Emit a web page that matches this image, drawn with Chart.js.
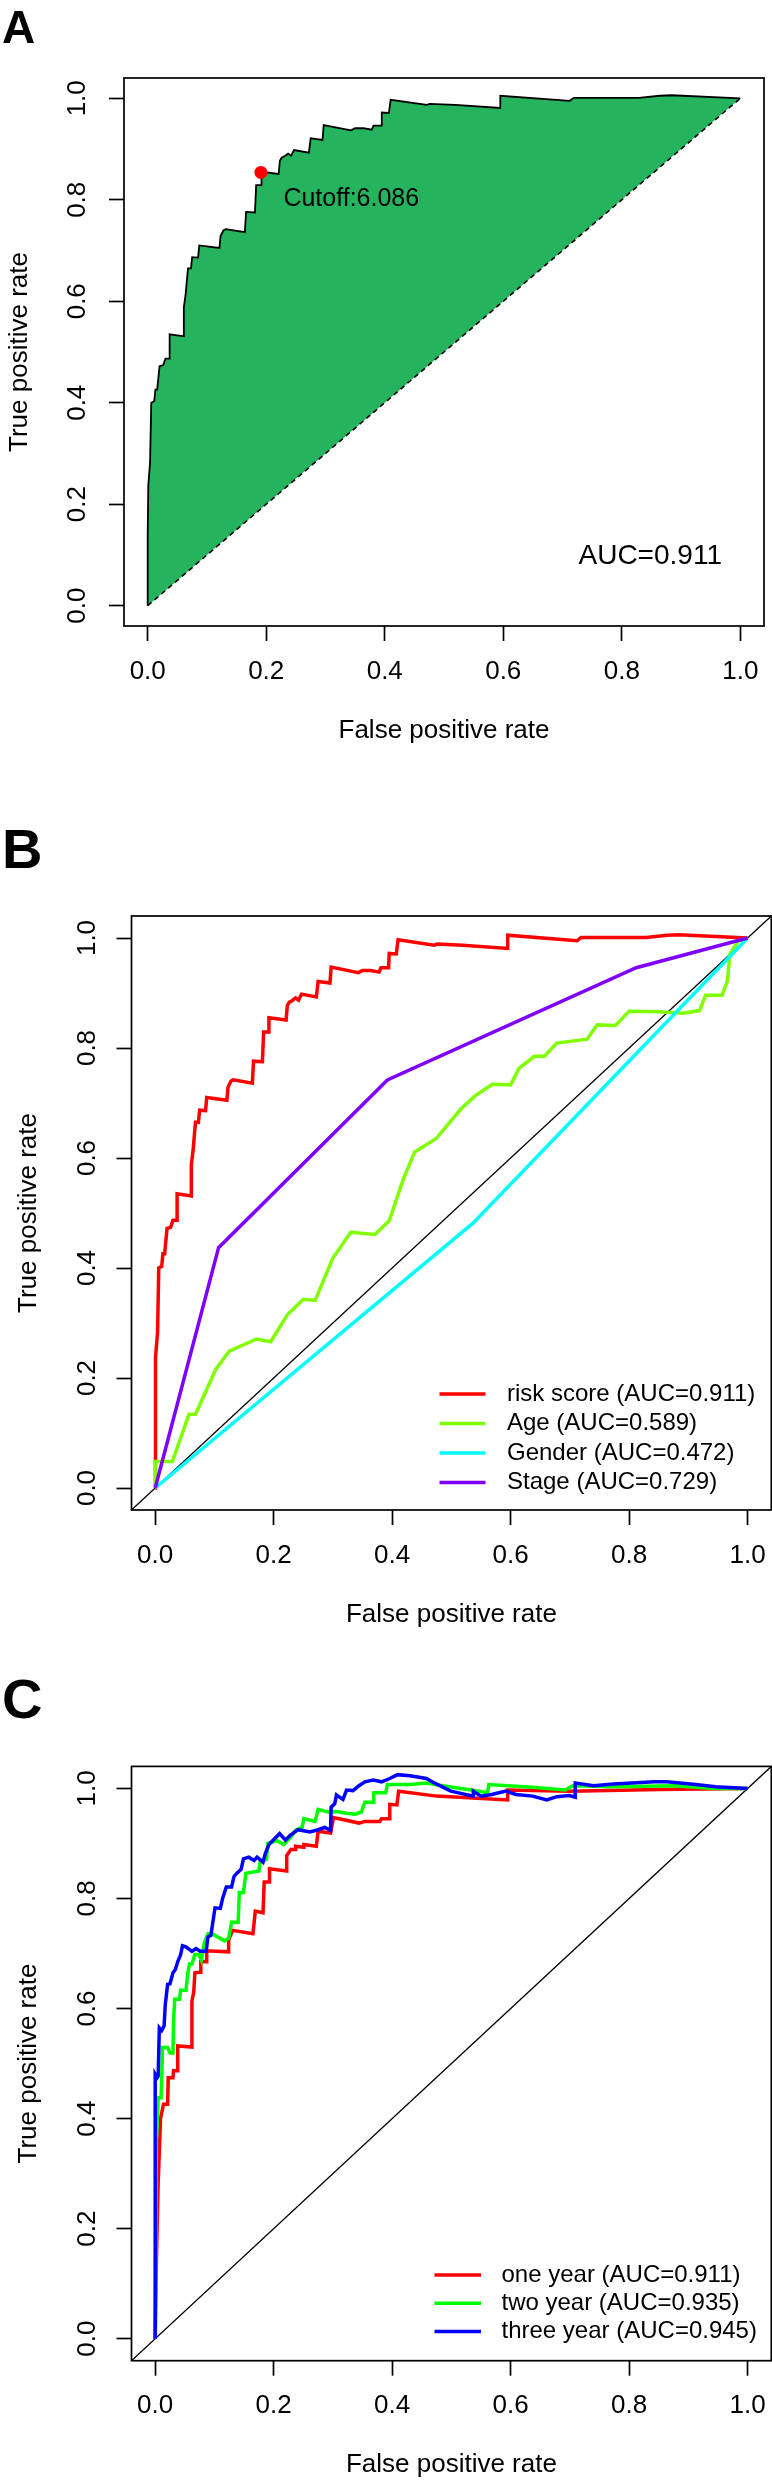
<!DOCTYPE html>
<html>
<head>
<meta charset="utf-8">
<script src="https://cdn.jsdelivr.net/npm/chart.js@4.4.1/dist/chart.umd.min.js"></script>
<style>
  body { margin: 0; background: #fff; width: 772px; height: 2480px; position: relative; overflow: hidden; }
  canvas { position: absolute; left: 0; }
  .tag { position: absolute; left: 2px; font-family: "Liberation Sans", Arial, sans-serif; font-weight: bold; line-height: 1; color: #000; z-index: 2; }
</style>
</head>
<body>
<div class="tag" style="top:4px;font-size:46px">A</div>
<div class="tag" style="top:821px;font-size:56px">B</div>
<div class="tag" style="top:1671px;font-size:56px">C</div>
<canvas id="panelA" width="772" height="746" style="top:0;width:772px;height:746px"></canvas>
<canvas id="panelB" width="772" height="804" style="top:826px;width:772px;height:804px"></canvas>
<canvas id="panelC" width="772" height="800" style="top:1680px;width:772px;height:800px"></canvas>
<script>
// tick positions on both axes
const tickValues = [0, 0.2, 0.4, 0.6, 0.8, 1.0];

// risk score ROC curve (panel A, red curve in panel B)
const riskFpr = [0, 0, 0.001, 0.004, 0.006, 0.011, 0.013, 0.016, 0.020, 0.026, 0.030, 0.037, 0.037, 0.061, 0.061, 0.064, 0.066, 0.068, 0.073, 0.075, 0.085, 0.087, 0.121, 0.123, 0.128, 0.132, 0.164, 0.166, 0.181, 0.183, 0.192, 0.192, 0.221, 0.223, 0.226, 0.231, 0.237, 0.242, 0.247, 0.272, 0.275, 0.295, 0.297, 0.343, 0.350, 0.364, 0.378, 0.381, 0.394, 0.395, 0.407, 0.410, 0.471, 0.476, 0.519, 0.595, 0.595, 0.712, 0.719, 0.753, 0.829, 0.864, 0.884, 1];
const riskTpr = [0, 0.14, 0.237, 0.283, 0.400, 0.403, 0.426, 0.426, 0.472, 0.474, 0.487, 0.487, 0.535, 0.531, 0.588, 0.614, 0.640, 0.665, 0.665, 0.687, 0.686, 0.710, 0.705, 0.729, 0.740, 0.742, 0.736, 0.776, 0.775, 0.829, 0.829, 0.855, 0.851, 0.877, 0.883, 0.886, 0.891, 0.887, 0.898, 0.893, 0.921, 0.918, 0.947, 0.937, 0.941, 0.941, 0.938, 0.946, 0.946, 0.972, 0.971, 0.997, 0.987, 0.989, 0.987, 0.981, 1.005, 0.995, 1.001, 1.001, 1.001, 1.005, 1.006, 1];
const cutoffFpr = [0.191];
const cutoffTpr = [0.854];

// panel B: clinical variables
const ageFpr = [0, 0, 0.029, 0.057, 0.068, 0.102, 0.125, 0.171, 0.195, 0.223, 0.250, 0.270, 0.300, 0.330, 0.371, 0.395, 0.419, 0.438, 0.474, 0.516, 0.540, 0.569, 0.600, 0.614, 0.640, 0.657, 0.678, 0.729, 0.746, 0.777, 0.800, 0.850, 0.891, 0.919, 0.929, 0.957, 0.966, 0.970, 0.984, 1];
const ageTpr = [0, 0.048, 0.048, 0.134, 0.134, 0.215, 0.249, 0.271, 0.266, 0.315, 0.343, 0.341, 0.418, 0.465, 0.461, 0.486, 0.562, 0.611, 0.635, 0.689, 0.713, 0.734, 0.733, 0.763, 0.785, 0.785, 0.809, 0.816, 0.842, 0.841, 0.867, 0.866, 0.863, 0.868, 0.896, 0.896, 0.922, 0.971, 0.994, 1];
const genderFpr = [0, 0.536, 1];
const genderTpr = [0, 0.481, 1];
const stageFpr = [0, 0.107, 0.392, 0.812, 1];
const stageTpr = [0, 0.437, 0.742, 0.946, 1];
const labelsB = ["risk score (AUC=0.911)", "Age (AUC=0.589)", "Gender (AUC=0.472)", "Stage (AUC=0.729)"];

// panel C: time dependent ROC
const oneFpr = [0, 0.002, 0.005, 0.009, 0.014, 0.021, 0.022, 0.030, 0.031, 0.038, 0.038, 0.062, 0.062, 0.065, 0.067, 0.076, 0.077, 0.086, 0.087, 0.124, 0.124, 0.131, 0.165, 0.169, 0.182, 0.184, 0.193, 0.193, 0.222, 0.222, 0.229, 0.237, 0.237, 0.250, 0.251, 0.272, 0.275, 0.296, 0.301, 0.344, 0.354, 0.379, 0.382, 0.396, 0.396, 0.408, 0.411, 0.475, 0.595, 0.595, 0.700, 0.850, 1];
const oneTpr = [0, 0.141, 0.283, 0.400, 0.426, 0.426, 0.474, 0.474, 0.487, 0.487, 0.532, 0.530, 0.613, 0.630, 0.665, 0.666, 0.685, 0.685, 0.705, 0.703, 0.725, 0.742, 0.736, 0.777, 0.774, 0.830, 0.830, 0.854, 0.850, 0.878, 0.889, 0.889, 0.895, 0.893, 0.898, 0.895, 0.922, 0.919, 0.947, 0.937, 0.940, 0.940, 0.945, 0.945, 0.971, 0.970, 0.995, 0.986, 0.979, 0.997, 0.995, 0.998, 1];
const twoFpr = [0, 0.002, 0.005, 0.010, 0.012, 0.012, 0.021, 0.025, 0.030, 0.031, 0.033, 0.041, 0.043, 0.052, 0.055, 0.058, 0.062, 0.067, 0.074, 0.078, 0.083, 0.089, 0.096, 0.117, 0.124, 0.129, 0.140, 0.142, 0.149, 0.153, 0.175, 0.177, 0.188, 0.190, 0.206, 0.217, 0.230, 0.237, 0.248, 0.251, 0.270, 0.275, 0.292, 0.306, 0.323, 0.337, 0.348, 0.354, 0.368, 0.369, 0.389, 0.392, 0.430, 0.458, 0.485, 0.533, 0.561, 0.563, 0.595, 0.637, 0.692, 0.705, 0.774, 0.877, 0.946, 1];
const twoTpr = [0, 0.361, 0.438, 0.438, 0.513, 0.529, 0.529, 0.519, 0.519, 0.578, 0.617, 0.617, 0.633, 0.633, 0.664, 0.681, 0.681, 0.698, 0.698, 0.688, 0.720, 0.736, 0.736, 0.723, 0.728, 0.757, 0.757, 0.811, 0.811, 0.846, 0.850, 0.866, 0.871, 0.900, 0.905, 0.898, 0.913, 0.924, 0.929, 0.945, 0.940, 0.962, 0.957, 0.958, 0.955, 0.953, 0.957, 0.975, 0.975, 0.992, 0.992, 1.007, 1.007, 1.010, 1.005, 0.997, 0.992, 1.007, 1.005, 1.002, 0.997, 1.005, 1.003, 1.005, 1.000, 1];
const threeFpr = [0, 0, 0.003, 0.005, 0.007, 0.011, 0.015, 0.017, 0.021, 0.025, 0.030, 0.034, 0.038, 0.043, 0.046, 0.052, 0.062, 0.069, 0.076, 0.086, 0.089, 0.094, 0.101, 0.110, 0.114, 0.120, 0.129, 0.133, 0.138, 0.145, 0.149, 0.158, 0.167, 0.172, 0.182, 0.186, 0.192, 0.210, 0.220, 0.227, 0.241, 0.261, 0.272, 0.286, 0.296, 0.297, 0.303, 0.306, 0.317, 0.323, 0.334, 0.344, 0.354, 0.368, 0.382, 0.396, 0.409, 0.430, 0.458, 0.471, 0.499, 0.537, 0.537, 0.550, 0.568, 0.592, 0.609, 0.637, 0.661, 0.678, 0.699, 0.709, 0.709, 0.740, 0.774, 0.843, 0.864, 0.912, 0.946, 1];
const threeTpr = [0, 0.480, 0.474, 0.477, 0.565, 0.560, 0.568, 0.607, 0.644, 0.645, 0.665, 0.671, 0.685, 0.698, 0.714, 0.712, 0.704, 0.709, 0.704, 0.704, 0.730, 0.733, 0.783, 0.782, 0.801, 0.821, 0.821, 0.840, 0.846, 0.853, 0.872, 0.875, 0.869, 0.875, 0.866, 0.882, 0.898, 0.918, 0.906, 0.914, 0.925, 0.921, 0.924, 0.929, 0.924, 0.966, 0.972, 0.988, 0.980, 0.997, 0.996, 1.005, 1.012, 1.015, 1.012, 1.018, 1.025, 1.023, 1.018, 1.010, 0.995, 0.986, 0.995, 0.986, 0.989, 0.995, 0.989, 0.986, 0.979, 0.985, 0.987, 0.984, 1.010, 1.005, 1.008, 1.012, 1.012, 1.007, 1.003, 1];
const labelsC = ["one year (AUC=0.911)", "two year (AUC=0.935)", "three year (AUC=0.945)"];

const FONT = '"Liberation Sans", Arial, sans-serif';

function pts(xs, ys) {
  return xs.map((v, i) => ({ x: v, y: ys[i] }));
}

// box round the plot, free texts and the legend (R style)
const decor = {
  id: "decor",
  afterDraw(chart, args, opts) {
    const { ctx, chartArea: a, scales } = chart;
    ctx.save();
    ctx.strokeStyle = "#000";
    ctx.lineWidth = 1.7;
    ctx.strokeRect(a.left, a.top, a.right - a.left, a.bottom - a.top);
    ctx.fillStyle = "#000";
    ctx.textBaseline = "middle";
    (opts.texts || []).forEach(t => {
      ctx.font = t.size + "px " + FONT;
      ctx.textAlign = t.align;
      ctx.fillText(t.text, scales.x.getPixelForValue(t.x), scales.y.getPixelForValue(t.y));
    });
    if (opts.legend) {
      const lg = opts.legend;
      ctx.font = "24px " + FONT;
      ctx.textAlign = "left";
      let row = 0;
      chart.data.datasets.forEach(ds => {
        if (!ds.label) return;
        const py = a.bottom - lg.fromBottom + row * lg.gap;
        ctx.strokeStyle = ds.borderColor;
        ctx.lineWidth = ds.borderWidth;
        ctx.beginPath();
        ctx.moveTo(a.left + lg.lineX0, py);
        ctx.lineTo(a.left + lg.lineX1, py);
        ctx.stroke();
        ctx.fillStyle = "#000";
        ctx.fillText(ds.label, a.left + lg.textX, py);
        row++;
      });
    }
    ctx.restore();
  }
};

function makePanel(id, g, datasets, decorOpts) {
  const cv = document.getElementById(id);
  const xHeight = cv.height - g.boxBottom;
  return new Chart(cv, {
    type: "line",
    data: { datasets: datasets },
    options: {
      responsive: false,
      animation: false,
      layout: { padding: { left: 0, top: g.boxTop, right: cv.width - g.boxRight, bottom: 0 } },
      elements: { point: { radius: 0 }, line: { tension: 0 } },
      plugins: { legend: { display: false }, tooltip: { enabled: false }, decor: decorOpts },
      scales: {
        x: {
          type: "linear", min: -0.04, max: 1.04,
          afterBuildTicks: s => { s.ticks = tickValues.map(v => ({ value: v })); },
          afterFit: s => { s.height = xHeight; s.paddingLeft = 0; s.paddingRight = 0; },
          grid: { drawOnChartArea: false, drawTicks: true, tickLength: 15, tickWidth: 1.7, tickColor: "#000" },
          border: { display: false },
          ticks: { color: "#000", padding: 15, font: { family: FONT, size: 26 }, maxRotation: 0, callback: v => v.toFixed(1) },
          title: { display: true, text: "False positive rate", color: "#000", padding: { top: 0, bottom: 0 }, font: { family: FONT, size: 26 } }
        },
        y: {
          type: "linear", min: -0.04, max: 1.04,
          afterBuildTicks: s => { s.ticks = tickValues.map(v => ({ value: v })); },
          afterFit: s => { s.width = g.boxLeft; s.paddingTop = 0; s.paddingBottom = 0; },
          grid: { drawOnChartArea: false, drawTicks: true, tickLength: 15, tickWidth: 1.7, tickColor: "#000" },
          border: { display: false },
          ticks: { color: "#000", padding: g.yTickPad, crossAlign: "center", minRotation: 90, maxRotation: 90, font: { family: FONT, size: 26 }, callback: v => v.toFixed(1) },
          title: { display: true, text: "True positive rate", color: "#000", padding: { top: g.yTitlePad, bottom: 0 }, font: { family: FONT, size: 26 } }
        }
      }
    },
    plugins: [decor]
  });
}

// Panel A: filled ROC curve with cutoff
makePanel("panelA",
  { boxTop: 78, boxBottom: 626, boxLeft: 124, boxRight: 764, yTickPad: 13, yTitlePad: 4 },
  [
    { data: pts(cutoffFpr, cutoffTpr), showLine: false, pointRadius: 6.5, pointBackgroundColor: "#ff0000", pointBorderWidth: 0, order: 0 },
    { data: pts([0, 1], [0, 1]), borderColor: "#000", borderWidth: 1.6, borderDash: [5, 4], order: 1 },
    { data: pts(riskFpr, riskTpr), borderColor: "#000", borderWidth: 1.8, fill: "shape", backgroundColor: "#25b35e", order: 2 }
  ],
  { texts: [
      { text: "Cutoff:6.086", x: 0.229, y: 0.802, size: 25, align: "left" },
      { text: "AUC=0.911", x: 0.848, y: 0.097, size: 28, align: "center" }
  ] }
);

// Panel B: risk score vs clinical variables
makePanel("panelB",
  { boxTop: 90, boxBottom: 684, boxLeft: 131.5, boxRight: 771.3, yTickPad: 11, yTitlePad: 13 },
  [
    { label: labelsB[0], data: pts(riskFpr, riskTpr), borderColor: "#ff0000", borderWidth: 3.5, order: 4 },
    { label: labelsB[1], data: pts(ageFpr, ageTpr), borderColor: "#80ff00", borderWidth: 3.5, order: 3 },
    { label: labelsB[2], data: pts(genderFpr, genderTpr), borderColor: "#00ffff", borderWidth: 3.5, order: 2 },
    { label: labelsB[3], data: pts(stageFpr, stageTpr), borderColor: "#8000ff", borderWidth: 3.5, order: 1 },
    { data: pts([-0.04, 1.04], [-0.04, 1.04]), borderColor: "#000", borderWidth: 1.3, order: 5 }
  ],
  { legend: { fromBottom: 116, gap: 29.5, lineX0: 308, lineX1: 354, textX: 375.5 } }
);

// Panel C: one, two and three year ROC
makePanel("panelC",
  { boxTop: 86.4, boxBottom: 680.7, boxLeft: 131.5, boxRight: 771.3, yTickPad: 11, yTitlePad: 13 },
  [
    { label: labelsC[0], data: pts(oneFpr, oneTpr), borderColor: "#ff0000", borderWidth: 3.5, order: 3 },
    { label: labelsC[1], data: pts(twoFpr, twoTpr), borderColor: "#00ff00", borderWidth: 3.5, order: 2 },
    { label: labelsC[2], data: pts(threeFpr, threeTpr), borderColor: "#0000ff", borderWidth: 3.5, order: 1 },
    { data: pts([-0.04, 1.04], [-0.04, 1.04]), borderColor: "#000", borderWidth: 1.3, order: 4 }
  ],
  { legend: { fromBottom: 85.7, gap: 28.3, lineX0: 303, lineX1: 349.5, textX: 370 } }
);
</script>
</body>
</html>
